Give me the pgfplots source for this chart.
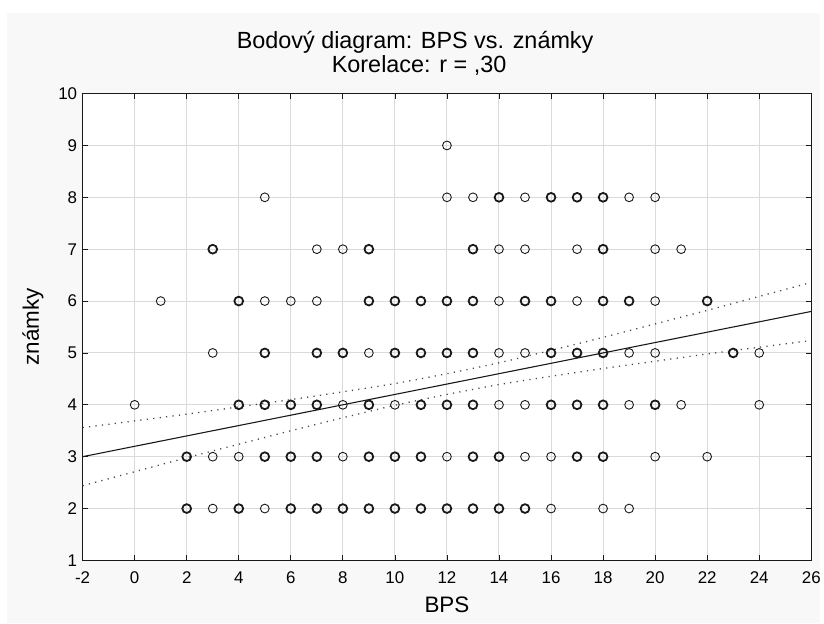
\documentclass[border=0pt]{standalone}
\usepackage{fontspec}
\setmainfont{Liberation Sans}
\usepackage{pgfplots}
\pgfplotsset{compat=1.18}
\definecolor{panel}{RGB}{248,248,248}
\definecolor{gridc}{RGB}{218,218,218}
\definecolor{ink}{RGB}{25,25,25}

% single cases (thin circles)
\pgfplotstableread{
x y
12 9
5 8
12 8
13 8
15 8
19 8
20 8
7 7
8 7
14 7
15 7
17 7
20 7
21 7
1 6
5 6
6 6
7 6
14 6
17 6
20 6
3 5
9 5
14 5
15 5
19 5
20 5
24 5
0 4
8 4
10 4
14 4
15 4
19 4
21 4
24 4
3 3
4 3
8 3
12 3
15 3
16 3
20 3
22 3
3 2
5 2
16 2
18 2
19 2
}\single

% repeated cases (heavier circles)
\pgfplotstableread{
x y
14 8
16 8
17 8
18 8
3 7
9 7
13 7
18 7
4 6
9 6
10 6
11 6
12 6
13 6
15 6
16 6
18 6
19 6
22 6
5 5
7 5
8 5
10 5
11 5
12 5
13 5
16 5
17 5
18 5
23 5
4 4
5 4
6 4
7 4
9 4
11 4
12 4
13 4
16 4
17 4
18 4
20 4
2 3
5 3
6 3
7 3
9 3
10 3
11 3
13 3
14 3
17 3
18 3
2 2
4 2
6 2
7 2
8 2
9 2
10 2
11 2
12 2
13 2
14 2
15 2
}\multi

\begin{document}
\begin{tikzpicture}
\fill[white] (-83pt,-63pt) rectangle (741pt,563pt);
\fill[panel] (-76pt,-63pt) rectangle (741pt,550pt);
\begin{axis}[
  scale only axis, width=732pt, height=469pt,
  xmin=-2, xmax=26, ymin=1, ymax=10,
  xtick={-2,0,...,26}, ytick={1,...,10},
  tick align=inside, major tick length=5pt,
  tick style={ink, line width=0.8pt},
  grid=major, major grid style={gridc, line width=1pt},
  axis line style={ink, line width=1.5pt},
  axis background/.style={fill=white},
  /pgf/number format/assume math mode=true,
  tick label style={font=\fontsize{17}{17}\selectfont},
  xticklabel style={anchor=center, yshift=-17pt},
  yticklabel style={xshift=-2pt},
  xlabel={BPS}, ylabel={známky},
  label style={font=\fontsize{22.5}{22.5}\selectfont},
  xlabel style={at={(axis description cs:0.5,-0.096)}, anchor=center},
  ylabel style={at={(axis description cs:-0.0683,0.5)}, anchor=center},
  clip=true,
]
\addplot[ink, line width=1.1pt] coordinates {(-2,3.00) (26,5.80)};
\addplot[ink!80, line width=1.3pt, dash pattern=on 1.2pt off 5.3pt, smooth] coordinates {
(-2,3.56) (0,3.69) (2,3.82) (4,3.96) (6,4.10) (8,4.25) (10,4.41) (12,4.60)
(14,4.81) (16,5.05) (18,5.30) (20,5.56) (22,5.82) (24,6.09) (26,6.36)};
\addplot[ink!80, line width=1.3pt, dash pattern=on 1.2pt off 5.3pt, smooth] coordinates {
(-2,2.44) (0,2.71) (2,2.98) (4,3.24) (6,3.50) (8,3.75) (10,3.99) (12,4.20)
(14,4.39) (16,4.55) (18,4.70) (20,4.84) (22,4.98) (24,5.11) (26,5.24)};
\addplot[only marks, mark=o, mark size=4.4pt, mark options={ink, line width=0.9pt}] table[x=x, y=y] {\single};
\addplot[only marks, mark=o, mark size=4.4pt, mark options={ink, line width=1.8pt}] table[x=x, y=y] {\multi};
\end{axis}
\node[font=\fontsize{23.5}{23.5}\selectfont, anchor=base, inner sep=0pt] at (334pt,514.5pt) {Bodový diagram: BPS vs. známky};
\node[font=\fontsize{23.5}{23.5}\selectfont, anchor=base, inner sep=0pt] at (338pt,489.7pt) {Korelace: r = ,30};
\end{tikzpicture}
\end{document}
